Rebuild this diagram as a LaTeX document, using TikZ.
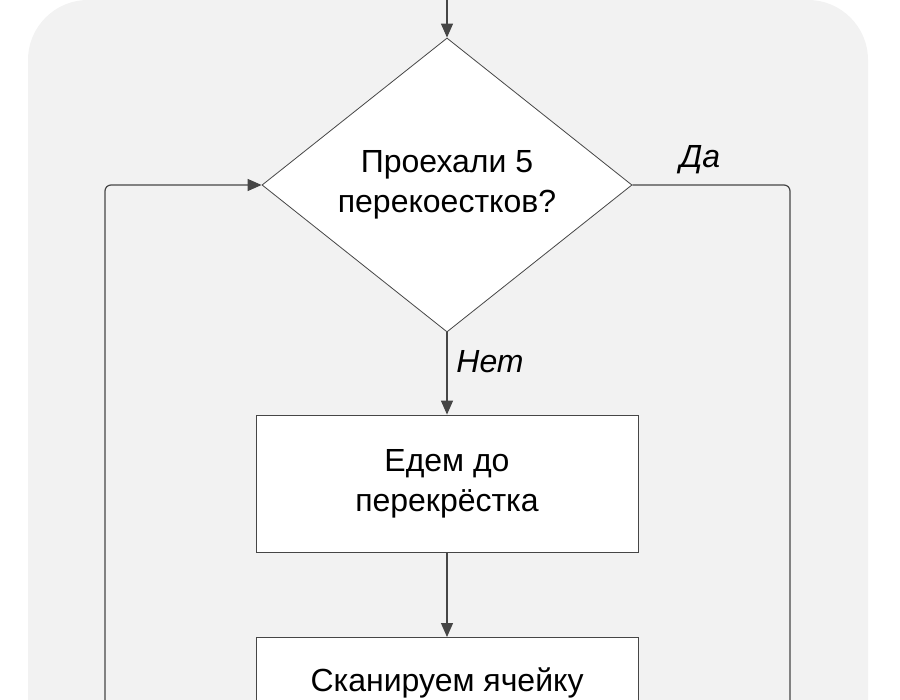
\documentclass[tikz,border=0pt]{standalone}
\usepackage{fontspec}
\setmainfont{Liberation Sans}
\usetikzlibrary{positioning, arrows.meta, shapes.geometric}
\definecolor{bgg}{RGB}{242,242,242}
\definecolor{lineg}{RGB}{70,70,70}
\begin{document}
\begin{tikzpicture}[x=0.5pt, y=-0.5pt,
            box/.style={rectangle, draw=lineg, fill=white, minimum width=191pt,
              minimum height=68.5pt, align=center, font=\fontsize{16}{20}\selectfont},
            dec/.style={diamond, draw=lineg, fill=white, minimum width=185pt,
              minimum height=147pt, aspect=1.26, align=center, inner sep=0pt,
              font=\fontsize{16}{20}\selectfont},
            lbl/.style={font=\fontsize{16}{20}\selectfont\itshape},
            ->/.style={-{Triangle[length=7pt, width=6pt]}, draw=lineg, line width=0.6pt},
            ln/.style={draw=lineg, line width=0.6pt, rounded corners=3pt}]
          \useasboundingbox (0,0) rectangle (900,700);
          \clip (0,0) rectangle (900,700);
          \fill[bgg, rounded corners=30pt] (28,0) rectangle (868,800);
          \node[dec] (cross) at (447,185) {Проехали 5\\перекоестков?};
          \node[box] (drive) at (447,483.5) {Едем до\\перекрёстка};
          \node[box, anchor=north] (scan) at (447,637) {Сканируем ячейку\\ \strut};
          \coordinate (in) at (447,-10);
          \coordinate (lb) at (105,720);
          \coordinate (rb) at (790,720);
          \draw [->] (in) to (cross.north);
          \draw [->] (cross.south) to (drive.north);
          \draw [->] (drive.south) to (scan.north);
          \draw [ln] (cross.east) -| (rb);
          \draw [->, rounded corners=3pt] (lb) |- (cross.west);
          \node[lbl] (yes) at (700,160) {Да};
          \node[lbl] (no) at (490,362) {Нет};
        \end{tikzpicture}
\end{document}
